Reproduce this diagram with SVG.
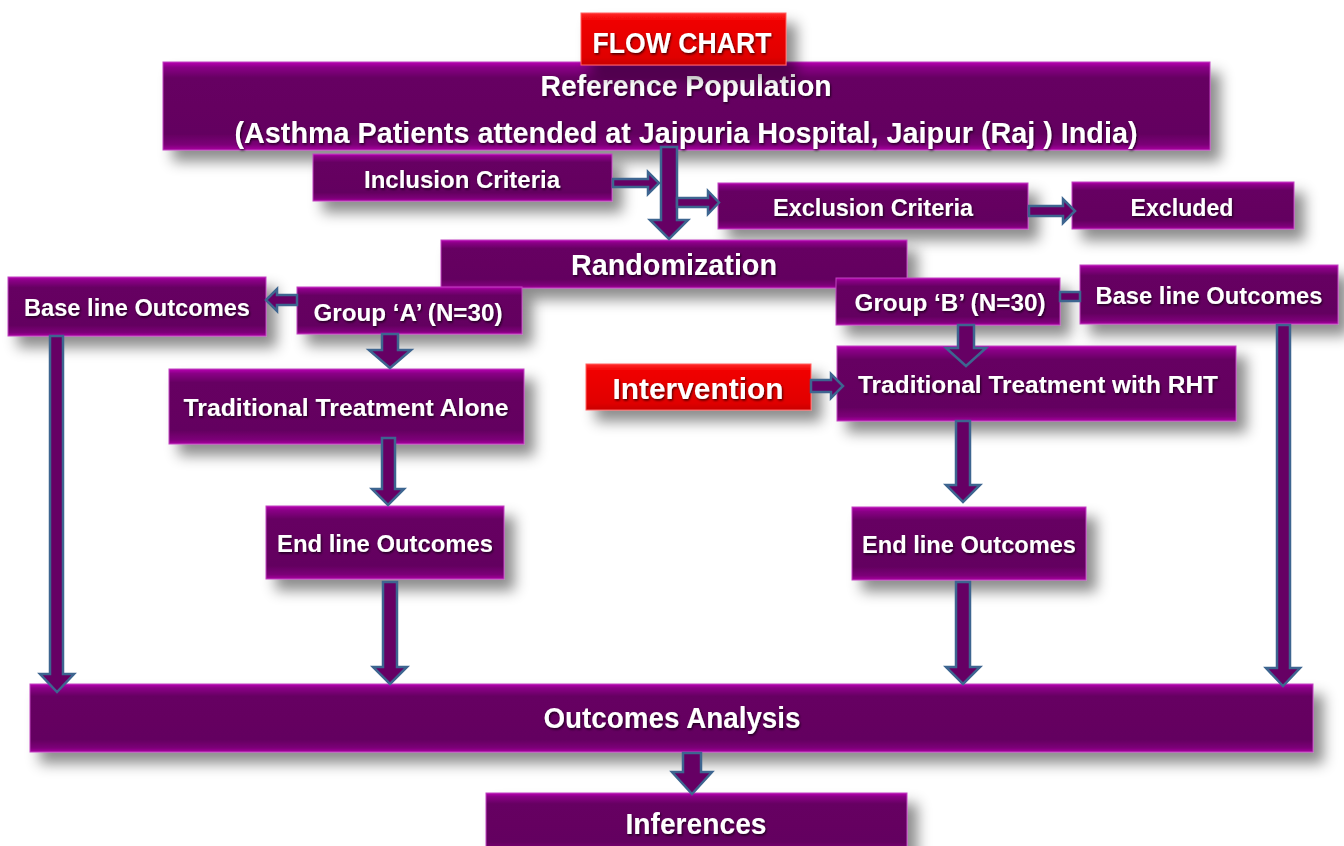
<svg xmlns="http://www.w3.org/2000/svg" width="1344" height="846" viewBox="0 0 1344 846">
<defs>
<linearGradient id="pg" x1="0" y1="0" x2="0" y2="1">
<stop offset="0" stop-color="#b800b2"/>
<stop offset="0.06" stop-color="#8a0086"/>
<stop offset="0.18" stop-color="#660062"/>
<stop offset="0.82" stop-color="#640060"/>
<stop offset="0.94" stop-color="#7c0078"/>
<stop offset="1" stop-color="#a8009f"/>
</linearGradient>
<linearGradient id="rg" x1="0" y1="0" x2="0" y2="1">
<stop offset="0" stop-color="#ff2a2a"/>
<stop offset="0.15" stop-color="#f00000"/>
<stop offset="0.85" stop-color="#e00000"/>
<stop offset="1" stop-color="#c80000"/>
</linearGradient>
<filter id="sh" x="-10%" y="-30%" width="130%" height="190%">
<feDropShadow dx="10" dy="11" stdDeviation="7" flood-color="#000" flood-opacity="0.45"/>
</filter>
<filter id="ts" x="-5%" y="-30%" width="110%" height="160%">
<feDropShadow dx="1" dy="1.5" stdDeviation="0.8" flood-color="#000" flood-opacity="0.7"/>
</filter>
<style>
.b{fill:url(#pg);stroke:#c040c0;stroke-width:1;filter:url(#sh)}
.r{fill:url(#rg);stroke:#ff6060;stroke-width:1;filter:url(#sh)}
.t{fill:#fff;font-family:"Liberation Sans",Arial,sans-serif;font-weight:bold;text-anchor:middle;dominant-baseline:central;filter:url(#ts)}
.l{font-size:29px}
.m{font-size:24px}
.a{fill:#660064;stroke:#3d6590;stroke-width:2.5;stroke-linejoin:miter}
</style>
</defs>
<rect width="1344" height="846" fill="#fff"/>

<g id="refpop"><rect class="b" x="163" y="62" width="1047" height="88"/>
<text class="t l" x="686" y="86" textLength="291" lengthAdjust="spacingAndGlyphs">Reference Population</text>
<text class="t l" x="686" y="133" textLength="903" lengthAdjust="spacingAndGlyphs">(Asthma Patients attended at Jaipuria Hospital, Jaipur (Raj ) India)</text></g>

<g id="flowchart"><rect class="r" x="581" y="13" width="205" height="52"/>
<text class="t l" x="682" y="43" textLength="179" lengthAdjust="spacingAndGlyphs">FLOW CHART</text></g>

<g id="inclusion"><rect class="b" x="313" y="154" width="299" height="47"/>
<text class="t m" x="462" y="179" textLength="196" lengthAdjust="spacingAndGlyphs">Inclusion Criteria</text></g>

<g id="exclusion"><rect class="b" x="718" y="183" width="310" height="46"/>
<text class="t m" x="873" y="207" textLength="200" lengthAdjust="spacingAndGlyphs">Exclusion Criteria</text></g>

<g id="excluded"><rect class="b" x="1072" y="182" width="222" height="47"/>
<text class="t m" x="1182" y="207" textLength="103" lengthAdjust="spacingAndGlyphs">Excluded</text></g>

<g id="randomization"><rect class="b" x="441" y="240" width="466" height="48"/>
<text class="t l" x="674" y="265" textLength="206" lengthAdjust="spacingAndGlyphs">Randomization</text></g>

<g id="baseA"><rect class="b" x="8" y="277" width="258" height="59"/>
<text class="t m" x="137" y="307" textLength="226" lengthAdjust="spacingAndGlyphs">Base line Outcomes</text></g>

<g id="groupA"><rect class="b" x="297" y="287" width="225" height="47"/>
<text class="t m" x="408" y="312" textLength="189" lengthAdjust="spacingAndGlyphs">Group ‘A’ (N=30)</text></g>

<g id="groupB"><rect class="b" x="836" y="278" width="224" height="47"/>
<text class="t m" x="950" y="302" textLength="191" lengthAdjust="spacingAndGlyphs">Group ‘B’ (N=30)</text></g>

<g id="baseB"><rect class="b" x="1080" y="265" width="258" height="59"/>
<text class="t m" x="1209" y="295" textLength="227" lengthAdjust="spacingAndGlyphs">Base line Outcomes</text></g>

<g id="ttA"><rect class="b" x="169" y="369" width="355" height="75"/>
<text class="t m" x="346" y="407" textLength="325" lengthAdjust="spacingAndGlyphs">Traditional Treatment Alone</text></g>

<g id="intervention"><rect class="r" x="586" y="364" width="225" height="46"/>
<text class="t l" x="698" y="389" textLength="171" lengthAdjust="spacingAndGlyphs">Intervention</text></g>

<g id="ttB"><rect class="b" x="837" y="346" width="399" height="75"/>
<text class="t m" x="1038" y="384" textLength="360" lengthAdjust="spacingAndGlyphs">Traditional Treatment with RHT</text></g>

<g id="endA"><rect class="b" x="266" y="506" width="238" height="73"/>
<text class="t m" x="385" y="543" textLength="216" lengthAdjust="spacingAndGlyphs">End line Outcomes</text></g>

<g id="endB"><rect class="b" x="852" y="507" width="234" height="73"/>
<text class="t m" x="969" y="544" textLength="214" lengthAdjust="spacingAndGlyphs">End line Outcomes</text></g>

<g id="analysis"><rect class="b" x="30" y="684" width="1283" height="68"/>
<text class="t l" x="672" y="718" textLength="257" lengthAdjust="spacingAndGlyphs">Outcomes Analysis</text></g>

<g id="inferences"><rect class="b" x="486" y="793" width="421" height="60"/>
<text class="t l" x="696" y="824" textLength="141" lengthAdjust="spacingAndGlyphs">Inferences</text></g>

<g id="connectors">
<polygon class="a" points="661,147 677,147 677,220 688,220 669,239 650,220 661,220"/>
<polygon class="a" points="613,179 648,179 648,172 659,183 648,194 648,187 613,187"/>
<polygon class="a" points="677,198 708,198 708,191 719,202.5 708,214 708,207 677,207"/>
<polygon class="a" points="1029,206 1063,206 1063,199 1075,211 1063,223 1063,216 1029,216"/>
<polygon class="a" points="297,295 277,295 277,289 266,300 277,311 277,305 297,305"/>
<rect class="a" x="1060" y="292" width="20" height="9"/>
<polygon class="a" points="382,334 398,334 398,350 411,350 390,368 369,350 382,350"/>
<polygon class="a" points="958,325 974,325 974,348 986,348 966,366 946,348 958,348"/>
<polygon class="a" points="811,380 831,380 831,374 843,386 831,398 831,392 811,392"/>
<polygon class="a" points="382,438 395,438 395,489 404,489 388,505 372,489 382,489"/>
<polygon class="a" points="956,421 970,421 970,485 980,485 963,502 946,485 956,485"/>
<polygon class="a" points="383,582 397,582 397,667 407,667 390,684 373,667 383,667"/>
<polygon class="a" points="956,582 970,582 970,667 980,667 963,684 946,667 956,667"/>
<polygon class="a" points="50,336 63,336 63,674 74,674 57,692 40,674 50,674"/>
<polygon class="a" points="1277,325 1290,325 1290,668 1300,668 1283,686 1266,668 1277,668"/>
<polygon class="a" points="683,753 701,753 701,772 712,772 692,794 672,772 683,772"/>
</g>
</svg>
